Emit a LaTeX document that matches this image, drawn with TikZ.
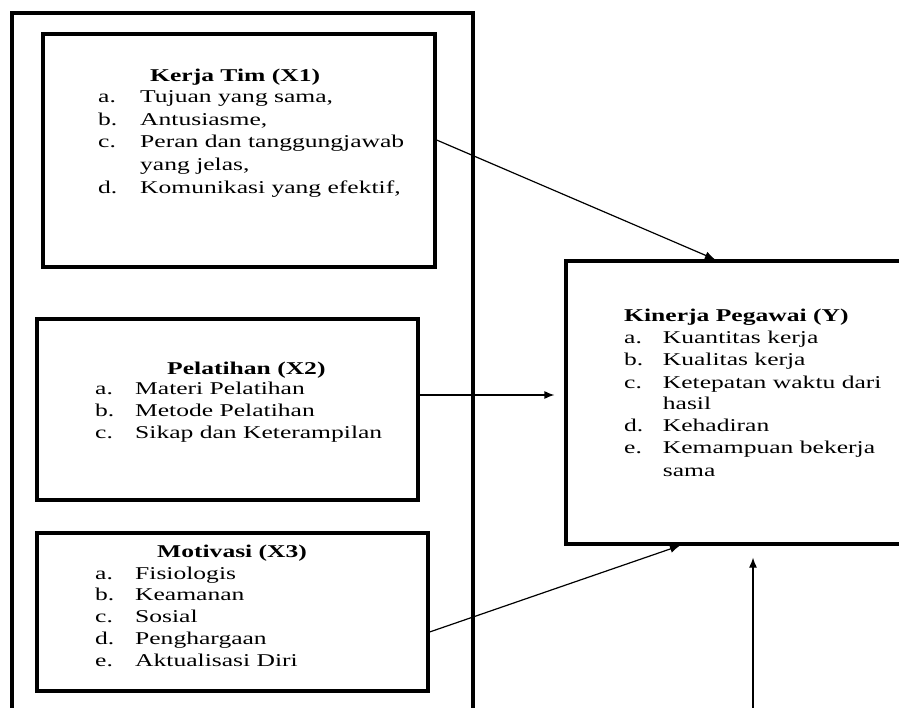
\documentclass[tikz,border=0pt]{standalone}
\usepackage{fontspec}
\setmainfont{Liberation Serif}[FakeStretch=1.42]
\usetikzlibrary{arrows.meta}
\newlength{\lw}
\newcommand{\itm}[2]{\makebox[\lw][l]{#1}#2}
\begin{document}
\begin{tikzpicture}[x=1pt,y=-1pt,
  box/.style={draw, line width=3.2pt, inner sep=0pt},
  ttl/.style={anchor=base west, inner sep=0pt, font=\fontsize{18}{22}\selectfont\bfseries},
  lst/.style={anchor=base west, inner sep=0pt},
  arr/.style={line width=1.2pt, -{Latex[length=10pt,width=8pt]}}]
\useasboundingbox (0,0) rectangle (899,708);
\clip (0,0) rectangle (899,708);
% outer frame
\draw[line width=3.4pt] (12,712) -- (12,13) -- (473,13) -- (473,712);
% boxes
\node[box, minimum width=392pt, minimum height=233pt] (x1) at (239,150.5) {};
\node[box, minimum width=381pt, minimum height=181pt] (x2) at (227.5,409.5) {};
\node[box, minimum width=391pt, minimum height=158pt] (x3) at (232.5,612) {};
\node[box, minimum width=354pt, minimum height=283pt] (y) at (743,402.5) {};
% X1 text
\node[ttl] (t1) at (150,81.7) {Kerja Tim (X1)};
\node[lst, font=\fontsize{18}{22.75}\selectfont] (l1) at (98,102.3) {\setlength{\lw}{42pt}%
  \begin{tabular}[t]{@{}l@{}}
  \itm{a.}{Tujuan yang sama,}\\
  \itm{b.}{Antusiasme,}\\
  \itm{c.}{Peran dan tanggungjawab}\\
  \itm{}{yang jelas,}\\
  \itm{d.}{Komunikasi yang efektif,}
  \end{tabular}};
% X2 text
\node[ttl] (t2) at (167,374) {Pelatihan (X2)};
\node[lst, font=\fontsize{18}{22}\selectfont] (l2) at (95,394.3) {\setlength{\lw}{40pt}%
  \begin{tabular}[t]{@{}l@{}}
  \itm{a.}{Materi Pelatihan}\\
  \itm{b.}{Metode Pelatihan}\\
  \itm{c.}{Sikap dan Keterampilan}
  \end{tabular}};
% X3 text
\node[ttl] (t3) at (157,557) {Motivasi (X3)};
\node[lst, font=\fontsize{18}{21.75}\selectfont] (l3) at (95,579) {\setlength{\lw}{40pt}%
  \begin{tabular}[t]{@{}l@{}}
  \itm{a.}{Fisiologis}\\
  \itm{b.}{Keamanan}\\
  \itm{c.}{Sosial}\\
  \itm{d.}{Penghargaan}\\
  \itm{e.}{Aktualisasi Diri}
  \end{tabular}};
% Y text
\node[ttl] (ty) at (624,321.7) {Kinerja Pegawai (Y)};
\node[lst, font=\fontsize{18}{22}\selectfont] (ly) at (624,344) {\setlength{\lw}{38.7pt}%
  \begin{tabular}[t]{@{}l@{}}
  \itm{a.}{Kuantitas kerja}\\
  \itm{b.}{Kualitas kerja}\\
  \itm{c.}{Ketepatan waktu dari}\\
  \itm{}{hasil}\\
  \itm{d.}{Kehadiran}\\
  \itm{e.}{Kemampuan bekerja}\\
  \itm{}{sama}
  \end{tabular}};
% connectors
\draw[arr] (x1.east |- 0,140) -- (y.north -| 715,0);
\draw[arr, shorten >=10pt] (x2.east |- 0,395) -- (y.west |- 0,395);
\draw[arr] (x3.east |- 0,632) -- (y.south -| 680,0);
\coordinate (src) at (753,712);
\draw[arr, shorten >=12pt] (src) -- (y.south -| src);
\end{tikzpicture}
\end{document}
